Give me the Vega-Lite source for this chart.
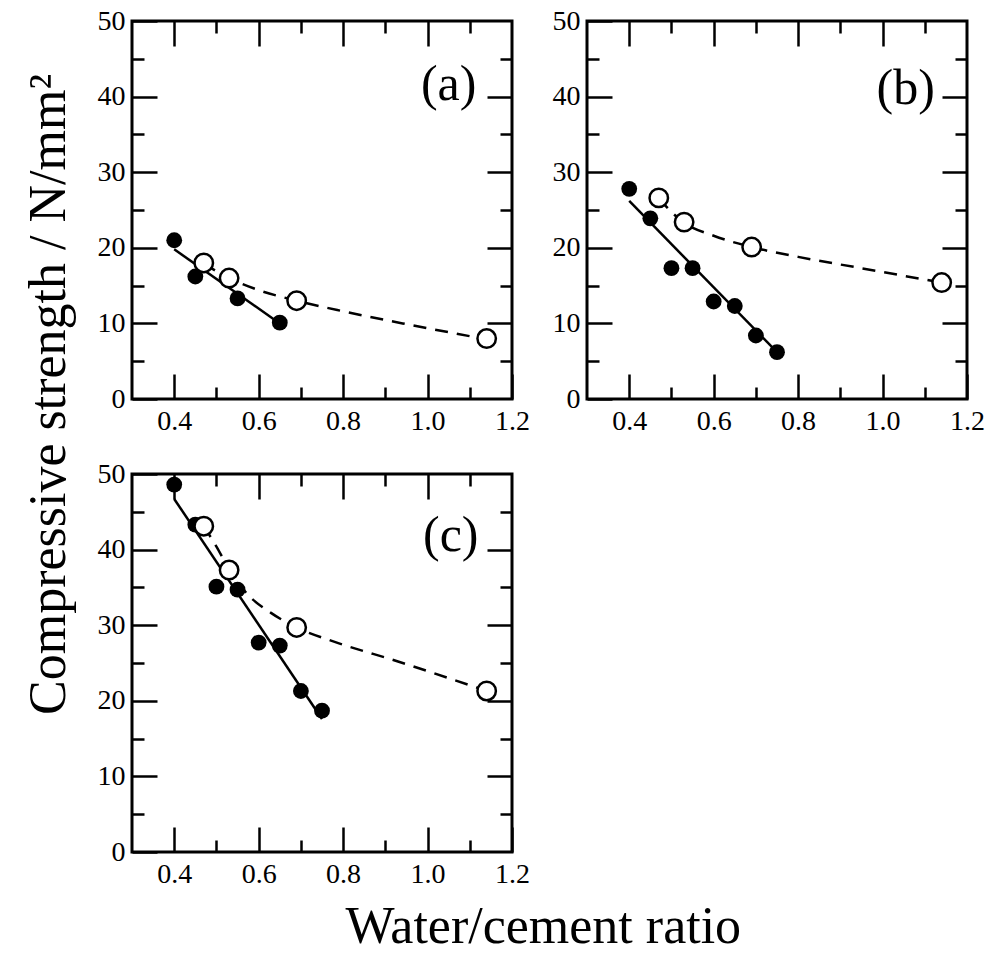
{
  "$schema": "https://vega.github.io/schema/vega-lite/v6.json",
  "padding": {"left": 22, "top": 5, "right": 0, "bottom": 0},
  "datasets": {
    "points": [
      {"panel": "a", "series": "filled", "wc": 0.40, "cs": 21.0},
      {"panel": "a", "series": "filled", "wc": 0.45, "cs": 16.2},
      {"panel": "a", "series": "filled", "wc": 0.55, "cs": 13.3},
      {"panel": "a", "series": "filled", "wc": 0.65, "cs": 10.1},
      {"panel": "a", "series": "open", "wc": 0.47, "cs": 18.0},
      {"panel": "a", "series": "open", "wc": 0.53, "cs": 16.0},
      {"panel": "a", "series": "open", "wc": 0.69, "cs": 13.0},
      {"panel": "a", "series": "open", "wc": 1.14, "cs": 8.0},
      {"panel": "b", "series": "filled", "wc": 0.40, "cs": 27.8},
      {"panel": "b", "series": "filled", "wc": 0.45, "cs": 23.9},
      {"panel": "b", "series": "filled", "wc": 0.50, "cs": 17.3},
      {"panel": "b", "series": "filled", "wc": 0.55, "cs": 17.3},
      {"panel": "b", "series": "filled", "wc": 0.60, "cs": 12.9},
      {"panel": "b", "series": "filled", "wc": 0.65, "cs": 12.3},
      {"panel": "b", "series": "filled", "wc": 0.70, "cs": 8.4},
      {"panel": "b", "series": "filled", "wc": 0.75, "cs": 6.2},
      {"panel": "b", "series": "open", "wc": 0.47, "cs": 26.6},
      {"panel": "b", "series": "open", "wc": 0.53, "cs": 23.4},
      {"panel": "b", "series": "open", "wc": 0.69, "cs": 20.1},
      {"panel": "b", "series": "open", "wc": 1.14, "cs": 15.4},
      {"panel": "c", "series": "filled", "wc": 0.40, "cs": 48.6},
      {"panel": "c", "series": "filled", "wc": 0.45, "cs": 43.3},
      {"panel": "c", "series": "filled", "wc": 0.50, "cs": 35.1},
      {"panel": "c", "series": "filled", "wc": 0.55, "cs": 34.7},
      {"panel": "c", "series": "filled", "wc": 0.60, "cs": 27.7},
      {"panel": "c", "series": "filled", "wc": 0.65, "cs": 27.3},
      {"panel": "c", "series": "filled", "wc": 0.70, "cs": 21.3},
      {"panel": "c", "series": "filled", "wc": 0.75, "cs": 18.7},
      {"panel": "c", "series": "open", "wc": 0.47, "cs": 43.1},
      {"panel": "c", "series": "open", "wc": 0.53, "cs": 37.3},
      {"panel": "c", "series": "open", "wc": 0.69, "cs": 29.7},
      {"panel": "c", "series": "open", "wc": 1.14, "cs": 21.3}
    ],
    "fits": [
      {"panel": "a", "series": "filled", "wc": 0.40, "cs": 19.8},
      {"panel": "a", "series": "filled", "wc": 0.65, "cs": 10.0},
      {"panel": "a", "series": "open", "wc": 0.47, "cs": 17.9},
      {"panel": "a", "series": "open", "wc": 0.53, "cs": 16.0},
      {"panel": "a", "series": "open", "wc": 0.60, "cs": 14.4},
      {"panel": "a", "series": "open", "wc": 0.69, "cs": 13.0},
      {"panel": "a", "series": "open", "wc": 0.80, "cs": 11.6},
      {"panel": "a", "series": "open", "wc": 0.95, "cs": 9.9},
      {"panel": "a", "series": "open", "wc": 1.14, "cs": 7.9},
      {"panel": "b", "series": "filled", "wc": 0.40, "cs": 26.2},
      {"panel": "b", "series": "filled", "wc": 0.75, "cs": 6.2},
      {"panel": "b", "series": "open", "wc": 0.47, "cs": 26.5},
      {"panel": "b", "series": "open", "wc": 0.53, "cs": 23.3},
      {"panel": "b", "series": "open", "wc": 0.60, "cs": 21.6},
      {"panel": "b", "series": "open", "wc": 0.69, "cs": 20.1},
      {"panel": "b", "series": "open", "wc": 0.80, "cs": 18.8},
      {"panel": "b", "series": "open", "wc": 0.95, "cs": 17.3},
      {"panel": "b", "series": "open", "wc": 1.14, "cs": 15.4},
      {"panel": "c", "series": "filled", "wc": 0.40, "cs": 46.7},
      {"panel": "c", "series": "filled", "wc": 0.75, "cs": 17.6},
      {"panel": "c", "series": "open", "wc": 0.47, "cs": 43.1},
      {"panel": "c", "series": "open", "wc": 0.50, "cs": 40.4},
      {"panel": "c", "series": "open", "wc": 0.53, "cs": 37.4},
      {"panel": "c", "series": "open", "wc": 0.57, "cs": 34.3},
      {"panel": "c", "series": "open", "wc": 0.63, "cs": 31.6},
      {"panel": "c", "series": "open", "wc": 0.69, "cs": 29.7},
      {"panel": "c", "series": "open", "wc": 0.78, "cs": 27.8},
      {"panel": "c", "series": "open", "wc": 0.93, "cs": 25.2},
      {"panel": "c", "series": "open", "wc": 1.14, "cs": 21.3}
    ]
  },
  "title": {"text": "Water/cement ratio", "orient": "bottom", "anchor": "middle", "offset": 12, "dx": 39},
  "vconcat": [
    {
      "title": {"text": "Compressive strength / N/mm²", "orient": "left", "anchor": "middle", "offset": 20, "dx": 53},
      "columns": 2,
      "spacing": 75,
      "bounds": "flush",
      "concat": [
        {
          "width": 380, "height": 378,
          "resolve": {"axis": {"x": "independent", "y": "independent"}},
          "layer": [
            {"data": {"name": "fits"}, "transform": [{"filter": "datum.panel === 'a' && datum.series === 'open'"}],
             "mark": {"type": "line", "color": "black", "strokeWidth": 2.5, "strokeDash": [13, 9], "interpolate": "monotone"},
             "encoding": {
               "x": {"field": "wc", "type": "quantitative", "scale": {"domain": [0.3, 1.2], "nice": false, "zero": false}, "axis": {"orient": "bottom", "values": [0.4, 0.6, 0.8, 1.0, 1.2], "format": ".1f", "tickSize": -25, "labelPadding": 33, "title": null}},
               "y": {"field": "cs", "type": "quantitative", "scale": {"domain": [0, 50], "nice": false}, "axis": {"orient": "left", "values": [0, 10, 20, 30, 40, 50], "format": "d", "tickSize": -25, "labelPadding": 32, "title": null}}}},
            {"data": {"name": "fits"}, "transform": [{"filter": "datum.panel === 'a' && datum.series === 'filled'"}],
             "mark": {"type": "line", "color": "black", "strokeWidth": 2.5},
             "encoding": {
               "x": {"field": "wc", "type": "quantitative", "scale": {"domain": [0.3, 1.2], "nice": false, "zero": false}, "axis": {"orient": "top", "values": [0.4, 0.6, 0.8, 1.0], "labels": false, "tickSize": -25, "title": null}},
               "y": {"field": "cs", "type": "quantitative", "scale": {"domain": [0, 50], "nice": false}, "axis": {"orient": "right", "values": [10, 20, 30, 40], "labels": false, "tickSize": -25, "title": null}}}},
            {"data": {"name": "points"}, "transform": [{"filter": "datum.panel === 'a' && datum.series === 'filled'"}],
             "mark": {"type": "point", "shape": "circle", "filled": true, "color": "black", "opacity": 1, "size": 250},
             "encoding": {
               "x": {"field": "wc", "type": "quantitative", "scale": {"domain": [0.3, 1.2], "nice": false, "zero": false}, "axis": {"orient": "bottom", "values": [0.5, 0.7, 0.9, 1.1], "labels": false, "tickSize": -12, "title": null}},
               "y": {"field": "cs", "type": "quantitative", "scale": {"domain": [0, 50], "nice": false}, "axis": {"orient": "left", "values": [5, 15, 25, 35, 45], "labels": false, "tickSize": -12, "title": null}}}},
            {"data": {"name": "points"}, "transform": [{"filter": "datum.panel === 'a' && datum.series === 'open'"}],
             "mark": {"type": "point", "shape": "circle", "filled": true, "fill": "white", "stroke": "black", "strokeWidth": 2.5, "opacity": 1, "size": 340},
             "encoding": {
               "x": {"field": "wc", "type": "quantitative", "scale": {"domain": [0.3, 1.2], "nice": false, "zero": false}, "axis": {"orient": "top", "values": [0.5, 0.7, 0.9, 1.1], "labels": false, "tickSize": -12, "title": null}},
               "y": {"field": "cs", "type": "quantitative", "scale": {"domain": [0, 50], "nice": false}, "axis": {"orient": "right", "values": [5, 15, 25, 35, 45], "labels": false, "tickSize": -12, "title": null}}}},
            {"data": {"values": [{"label": "(a)"}]},
             "mark": {"type": "text", "font": "Liberation Serif", "fontSize": 50, "align": "center", "baseline": "alphabetic", "color": "black"},
             "encoding": {
               "x": {"datum": 1.05, "type": "quantitative", "axis": null},
               "y": {"datum": 39.5, "type": "quantitative", "axis": null},
               "text": {"field": "label"}}}
          ]
        },
        {
          "width": 380, "height": 378,
          "resolve": {"axis": {"x": "independent", "y": "independent"}},
          "layer": [
            {"data": {"name": "fits"}, "transform": [{"filter": "datum.panel === 'b' && datum.series === 'open'"}],
             "mark": {"type": "line", "color": "black", "strokeWidth": 2.5, "strokeDash": [13, 9], "interpolate": "monotone"},
             "encoding": {
               "x": {"field": "wc", "type": "quantitative", "scale": {"domain": [0.3, 1.2], "nice": false, "zero": false}, "axis": {"orient": "bottom", "values": [0.4, 0.6, 0.8, 1.0, 1.2], "format": ".1f", "tickSize": -25, "labelPadding": 33, "title": null}},
               "y": {"field": "cs", "type": "quantitative", "scale": {"domain": [0, 50], "nice": false}, "axis": {"orient": "left", "values": [0, 10, 20, 30, 40, 50], "format": "d", "tickSize": -25, "labelPadding": 32, "title": null}}}},
            {"data": {"name": "fits"}, "transform": [{"filter": "datum.panel === 'b' && datum.series === 'filled'"}],
             "mark": {"type": "line", "color": "black", "strokeWidth": 2.5},
             "encoding": {
               "x": {"field": "wc", "type": "quantitative", "scale": {"domain": [0.3, 1.2], "nice": false, "zero": false}, "axis": {"orient": "top", "values": [0.4, 0.6, 0.8, 1.0], "labels": false, "tickSize": -25, "title": null}},
               "y": {"field": "cs", "type": "quantitative", "scale": {"domain": [0, 50], "nice": false}, "axis": {"orient": "right", "values": [10, 20, 30, 40], "labels": false, "tickSize": -25, "title": null}}}},
            {"data": {"name": "points"}, "transform": [{"filter": "datum.panel === 'b' && datum.series === 'filled'"}],
             "mark": {"type": "point", "shape": "circle", "filled": true, "color": "black", "opacity": 1, "size": 250},
             "encoding": {
               "x": {"field": "wc", "type": "quantitative", "scale": {"domain": [0.3, 1.2], "nice": false, "zero": false}, "axis": {"orient": "bottom", "values": [0.5, 0.7, 0.9, 1.1], "labels": false, "tickSize": -12, "title": null}},
               "y": {"field": "cs", "type": "quantitative", "scale": {"domain": [0, 50], "nice": false}, "axis": {"orient": "left", "values": [5, 15, 25, 35, 45], "labels": false, "tickSize": -12, "title": null}}}},
            {"data": {"name": "points"}, "transform": [{"filter": "datum.panel === 'b' && datum.series === 'open'"}],
             "mark": {"type": "point", "shape": "circle", "filled": true, "fill": "white", "stroke": "black", "strokeWidth": 2.5, "opacity": 1, "size": 340},
             "encoding": {
               "x": {"field": "wc", "type": "quantitative", "scale": {"domain": [0.3, 1.2], "nice": false, "zero": false}, "axis": {"orient": "top", "values": [0.5, 0.7, 0.9, 1.1], "labels": false, "tickSize": -12, "title": null}},
               "y": {"field": "cs", "type": "quantitative", "scale": {"domain": [0, 50], "nice": false}, "axis": {"orient": "right", "values": [5, 15, 25, 35, 45], "labels": false, "tickSize": -12, "title": null}}}},
            {"data": {"values": [{"label": "(b)"}]},
             "mark": {"type": "text", "font": "Liberation Serif", "fontSize": 50, "align": "center", "baseline": "alphabetic", "color": "black"},
             "encoding": {
               "x": {"datum": 1.055, "type": "quantitative", "axis": null},
               "y": {"datum": 39.0, "type": "quantitative", "axis": null},
               "text": {"field": "label"}}}
          ]
        },
        {
          "width": 380, "height": 378,
          "resolve": {"axis": {"x": "independent", "y": "independent"}},
          "layer": [
            {"data": {"name": "fits"}, "transform": [{"filter": "datum.panel === 'c' && datum.series === 'open'"}],
             "mark": {"type": "line", "color": "black", "strokeWidth": 2.5, "strokeDash": [13, 9], "interpolate": "monotone"},
             "encoding": {
               "x": {"field": "wc", "type": "quantitative", "scale": {"domain": [0.3, 1.2], "nice": false, "zero": false}, "axis": {"orient": "bottom", "values": [0.4, 0.6, 0.8, 1.0, 1.2], "format": ".1f", "tickSize": -25, "labelPadding": 33, "title": null}},
               "y": {"field": "cs", "type": "quantitative", "scale": {"domain": [0, 50], "nice": false}, "axis": {"orient": "left", "values": [0, 10, 20, 30, 40, 50], "format": "d", "tickSize": -25, "labelPadding": 32, "title": null}}}},
            {"data": {"name": "fits"}, "transform": [{"filter": "datum.panel === 'c' && datum.series === 'filled'"}],
             "mark": {"type": "line", "color": "black", "strokeWidth": 2.5},
             "encoding": {
               "x": {"field": "wc", "type": "quantitative", "scale": {"domain": [0.3, 1.2], "nice": false, "zero": false}, "axis": {"orient": "top", "values": [0.4, 0.6, 0.8, 1.0], "labels": false, "tickSize": -25, "title": null}},
               "y": {"field": "cs", "type": "quantitative", "scale": {"domain": [0, 50], "nice": false}, "axis": {"orient": "right", "values": [10, 20, 30, 40], "labels": false, "tickSize": -25, "title": null}}}},
            {"data": {"name": "points"}, "transform": [{"filter": "datum.panel === 'c' && datum.series === 'filled'"}],
             "mark": {"type": "point", "shape": "circle", "filled": true, "color": "black", "opacity": 1, "size": 250},
             "encoding": {
               "x": {"field": "wc", "type": "quantitative", "scale": {"domain": [0.3, 1.2], "nice": false, "zero": false}, "axis": {"orient": "bottom", "values": [0.5, 0.7, 0.9, 1.1], "labels": false, "tickSize": -12, "title": null}},
               "y": {"field": "cs", "type": "quantitative", "scale": {"domain": [0, 50], "nice": false}, "axis": {"orient": "left", "values": [5, 15, 25, 35, 45], "labels": false, "tickSize": -12, "title": null}}}},
            {"data": {"name": "points"}, "transform": [{"filter": "datum.panel === 'c' && datum.series === 'open'"}],
             "mark": {"type": "point", "shape": "circle", "filled": true, "fill": "white", "stroke": "black", "strokeWidth": 2.5, "opacity": 1, "size": 340},
             "encoding": {
               "x": {"field": "wc", "type": "quantitative", "scale": {"domain": [0.3, 1.2], "nice": false, "zero": false}, "axis": {"orient": "top", "values": [0.5, 0.7, 0.9, 1.1], "labels": false, "tickSize": -12, "title": null}},
               "y": {"field": "cs", "type": "quantitative", "scale": {"domain": [0, 50], "nice": false}, "axis": {"orient": "right", "values": [5, 15, 25, 35, 45], "labels": false, "tickSize": -12, "title": null}}}},
            {"data": {"values": [{"label": "(c)"}]},
             "mark": {"type": "text", "font": "Liberation Serif", "fontSize": 50, "align": "center", "baseline": "alphabetic", "color": "black"},
             "encoding": {
               "x": {"datum": 1.055, "type": "quantitative", "axis": null},
               "y": {"datum": 39.8, "type": "quantitative", "axis": null},
               "text": {"field": "label"}}}
          ]
        }
      ]
    }
  ],
  "config": {
    "view": {"stroke": "black", "strokeWidth": 3},
    "axis": {"grid": false, "domain": false, "labelFont": "Liberation Serif", "labelFontSize": 28, "labelColor": "black", "tickColor": "black", "tickWidth": 2.5, "labelFlush": false, "labelOverlap": false},
    "title": {"font": "Liberation Serif", "fontSize": 52, "fontWeight": "normal", "color": "black"}
  }
}
